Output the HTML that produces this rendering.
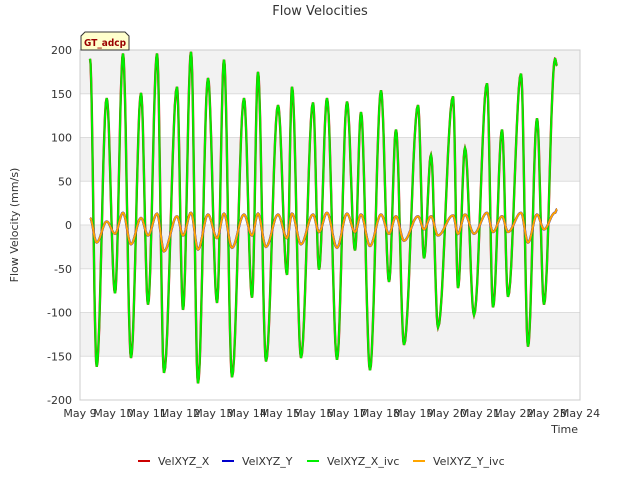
<!DOCTYPE html>
<html><head><meta charset="utf-8"><style>
body{margin:0;background:#fff;font-family:"Liberation Sans","DejaVu Sans",sans-serif}
svg text{font-family:"DejaVu Sans","Liberation Sans",sans-serif}
</style></head><body>
<svg id="chart" width="640" height="480" xmlns="http://www.w3.org/2000/svg">
<text x="320" y="15" text-anchor="middle" font-size="13" fill="#333">Flow Velocities</text>
<g id="bands"></g><g id="grid"></g>
<rect x="80" y="50" width="500" height="350" fill="none" stroke="#ccc"/>
<g id="series"></g><g id="yticks"></g><g id="xticks"></g>
<text x="18" y="225" transform="rotate(-90 18 225)" text-anchor="middle" font-size="11" fill="#333">Flow Velocity (mm/s)</text>
<text x="578" y="433" text-anchor="end" font-size="11" fill="#333">Time</text>
<g>
<path d="M81,50 L81,36 L85,32 L125,32 L129,36 L129,50 Z" fill="#ffffcc" stroke="#333"/>
<text x="105" y="46" text-anchor="middle" font-size="10" font-weight="bold" fill="#990000" textLength="42" lengthAdjust="spacingAndGlyphs">GT_adcp</text></g>
<g id="legend"></g>
</svg>
<script>
const tDays=[0.30,0.50,0.80,1.05,1.29,1.53,1.83,2.04,2.31,2.52,2.91,3.09,3.33,3.54,3.84,4.11,4.32,4.56,4.92,5.16,5.34,5.58,5.94,6.21,6.36,6.63,6.99,7.17,7.41,7.71,8.01,8.25,8.43,8.70,9.03,9.27,9.48,9.72,10.14,10.32,10.53,10.74,11.19,11.34,11.55,11.82,12.21,12.39,12.66,12.84,13.23,13.44,13.71,13.92,14.25,14.31];
const velX=[190,-162,145,-78,196,-152,151,-91,196,-169,158,-97,198,-181,168,-89,189,-174,145,-83,175,-156,137,-57,158,-152,140,-51,145,-154,141,-29,129,-166,154,-65,109,-137,137,-38,80,-117,147,-72,88,-103,162,-94,109,-82,173,-139,122,-91,190,182];
const velY=[8,-20,4,-10,14,-22,8,-12,13,-30,10,-12,14,-28,12,-15,13,-26,12,-12,13,-25,12,-15,13,-22,12,-8,14,-26,13,-8,12,-24,12,-10,10,-18,10,-5,10,-12,11,-10,12,-10,14,-8,10,-8,14,-20,12,-5,14,18];
const xTicks=["May 9","May 10","May 11","May 12","May 13","May 14","May 15","May 16","May 17","May 18","May 19","May 20","May 21","May 22","May 23","May 24"];
const yTicks=[-200,-150,-100,-50,0,50,100,150,200];
const NS="http://www.w3.org/2000/svg";
const X=t=>80+t*500/15, Y=v=>225-v*0.875;
function mk(tag,attrs,parent){const e=document.createElementNS(NS,tag);for(const k in attrs)e.setAttribute(k,attrs[k]);parent.appendChild(e);return e;}
const bands=document.getElementById('bands'),grid=document.getElementById('grid');
for(let i=0;i<yTicks.length-1;i++){ if(yTicks[i]===-150||yTicks[i]===-50||yTicks[i]===50||yTicks[i]===150){
 const r=mk('rect',{x:80,y:Y(yTicks[i]+50),width:500,height:Y(yTicks[i])-Y(yTicks[i]+50),fill:'#f2f2f2'},bands);
 
 }}
const yg=document.getElementById('yticks');
yTicks.forEach(v=>{const l=mk('line',{x1:80,x2:580,y1:Y(v),y2:Y(v),stroke:'#ddd'},grid);
 
 
 const t=mk('text',{x:72,y:Y(v)+4,'text-anchor':'end','font-size':11,fill:'#333'},yg);t.textContent=v;
 
 });
const xg=document.getElementById('xticks');
xTicks.forEach((s,i)=>{const t=mk('text',{x:X(i),y:417,'text-anchor':'middle','font-size':11,fill:'#333'},xg);t.textContent=s;
 
 });
function path(vals){let d='';for(let i=0;i<tDays.length-1;i++){const t0=tDays[i],t1=tDays[i+1],v0=vals[i],v1=vals[i+1];
 for(let k=0;k<=12;k++){const f=k/12,t=t0+(t1-t0)*f,v=v0+(v1-v0)*(1-Math.cos(Math.PI*f))/2;d+=(d?'L':'M')+X(t).toFixed(1)+','+Y(v).toFixed(1);}}return d;}
const sg=document.getElementById('series');
const s1=mk('path',{d:path(velX),fill:'none',stroke:'#cc0000','stroke-width':2.4},sg);


const s2=mk('path',{d:path(velX),fill:'none',stroke:'#00ee00','stroke-width':2},sg);


const s3=mk('path',{d:path(velY),fill:'none',stroke:'#0000cc','stroke-width':2.4},sg);


const s4=mk('path',{d:path(velY),fill:'none',stroke:'#ffa500','stroke-width':2},sg);


const leg=document.getElementById('legend');
const legNames=["VelXYZ_X","VelXYZ_Y","VelXYZ_X_ivc","VelXYZ_Y_ivc"],legCols=["#cc0000","#0000cc","#00ee00","#ffa500"],legX=[138,222,307,413];
legNames.forEach((n,i)=>{const g=mk('g',{},leg);
 
 
 mk('line',{x1:legX[i],x2:legX[i]+12,y1:461,y2:461,stroke:legCols[i],'stroke-width':2},g);
 const t=mk('text',{x:legX[i]+20,y:465,'font-size':11,fill:'#333'},g);t.textContent=n;});
</script>
</body></html>
